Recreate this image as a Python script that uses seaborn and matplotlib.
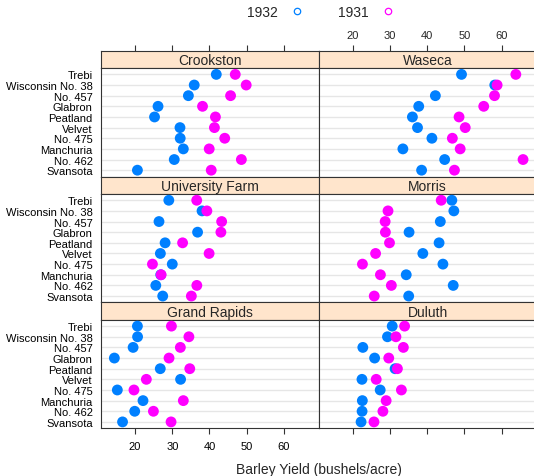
import matplotlib
matplotlib.use("Agg")
import matplotlib.pyplot as plt
from matplotlib.lines import Line2D
import numpy as np
import pandas as pd
import seaborn as sns

# varieties, top to bottom as shown in each panel
varieties = ["Trebi", "Wisconsin No. 38", "No. 457", "Glabron", "Peatland",
             "Velvet", "No. 475", "Manchuria", "No. 462", "Svansota"]
years = ["1932", "1931"]

# panel layout, top row first
site_rows = [["Crookston", "Waseca"],
             ["University Farm", "Morris"],
             ["Grand Rapids", "Duluth"]]

# yields (bushels/acre) in the variety order above
crookston_1932 = [41.83, 35.90, 34.33, 26.17, 25.23, 32.07, 32.13, 32.97, 30.53, 20.63]
crookston_1931 = [46.93, 49.87, 45.67, 38.13, 41.60, 41.33, 44.10, 39.93, 48.57, 40.47]
waseca_1932 = [49.23, 58.17, 42.20, 37.73, 36.03, 37.40, 41.27, 33.47, 44.70, 38.50]
waseca_1931 = [63.83, 58.80, 58.10, 55.20, 48.57, 50.23, 46.77, 48.87, 65.77, 47.33]
univ_farm_1932 = [29.07, 38.00, 26.43, 36.80, 28.07, 26.80, 30.00, 26.90, 25.57, 27.43]
univ_farm_1931 = [36.57, 39.30, 43.27, 43.07, 32.77, 39.90, 24.67, 27.00, 36.60, 35.13]
morris_1932 = [46.63, 47.17, 43.53, 35.13, 43.20, 38.83, 44.23, 34.37, 47.00, 35.03]
morris_1931 = [43.77, 29.47, 28.70, 28.77, 29.87, 26.13, 22.60, 27.43, 30.37, 25.77]
grand_rapids_1932 = [20.63, 20.67, 19.47, 14.43, 26.77, 32.23, 15.23, 22.13, 19.90, 16.63]
grand_rapids_1931 = [29.77, 34.47, 32.17, 29.13, 34.70, 23.03, 19.70, 32.97, 24.93, 29.67]
duluth_1932 = [30.60, 29.33, 22.70, 25.87, 31.37, 22.47, 27.37, 22.57, 22.50, 22.23]
duluth_1931 = [33.93, 31.60, 33.60, 29.67, 32.00, 26.30, 33.07, 28.97, 28.10, 25.70]

site_values = {
    "Crookston": (crookston_1932, crookston_1931),
    "Waseca": (waseca_1932, waseca_1931),
    "University Farm": (univ_farm_1932, univ_farm_1931),
    "Morris": (morris_1932, morris_1931),
    "Grand Rapids": (grand_rapids_1932, grand_rapids_1931),
    "Duluth": (duluth_1932, duluth_1931),
}

rows = []
for site, (y32, y31) in site_values.items():
    for yr, vals in zip(years, (y32, y31)):
        for v, val in zip(varieties, vals):
            rows.append({"site": site, "year": yr, "variety": v, "yield": val})
df = pd.DataFrame(rows)

sns.set_theme(style="white")
plt.rcParams["font.family"] = ["Liberation Sans", "DejaVu Sans"]

palette = {"1932": "#0080ff", "1931": "#ff00ff"}
strip_col = "#ffe5cc"
edge_col = "#333333"
xlim = (10.84, 69.36)
xticks = [20, 30, 40, 50, 60]

W, H = 534, 477
fig = plt.figure(figsize=(W / 100, H / 100), dpi=100)

col_x = [101, 318.7]
col_w = 217.7
top_px, bottom_px = 51.7, 429.3
row_h = (bottom_px - top_px) / 3
strip_h = 17.3

for r, pair in enumerate(site_rows):
    for c, site in enumerate(pair):
        st = top_px + r * row_h
        sax = fig.add_axes([col_x[c] / W, 1 - (st + strip_h) / H, col_w / W, strip_h / H])
        ax = fig.add_axes([col_x[c] / W, 1 - (st + row_h) / H, col_w / W, (row_h - strip_h) / H])

        sub = df[df["site"] == site]
        sns.stripplot(data=sub, x="yield", y="variety", hue="year", order=varieties,
                      hue_order=years, palette=palette, jitter=False, size=7.8,
                      linewidth=0, legend=False, ax=ax, zorder=3)

        ax.set_xlim(*xlim)
        ax.set_ylim(len(varieties) - 0.4, -0.6)
        ax.set_xlabel("")
        ax.set_ylabel("")
        ax.set_axisbelow(True)
        ax.yaxis.grid(True, color="#e6e6e6", linewidth=1.0)
        ax.xaxis.grid(False)
        ax.set_xticks(xticks)
        bottom_row = r == 2
        ax.tick_params(axis="x", direction="out", length=4, width=0.8, color=edge_col,
                       bottom=bottom_row, labelbottom=bottom_row and c == 0,
                       labelsize=8, pad=5.5, labelcolor="black")
        ax.tick_params(axis="y", length=0, labelsize=8, pad=6, labelleft=(c == 0),
                       labelcolor="black")
        for sp in ax.spines.values():
            sp.set_color(edge_col)
            sp.set_linewidth(0.8)
            sp.set_visible(True)

        sax.set_facecolor(strip_col)
        sax.set_xlim(*xlim)
        sax.set_ylim(0, 1)
        sax.set_yticks([])
        sax.set_xticks(xticks)
        top_row = r == 0
        sax.tick_params(axis="x", direction="out", length=4, width=0.8, color=edge_col,
                        bottom=False, labelbottom=False, top=top_row,
                        labeltop=top_row and c == 1, labelsize=8, pad=4)
        for sp in sax.spines.values():
            sp.set_color(edge_col)
            sp.set_linewidth(0.8)
            sp.set_visible(True)
        sax.text(0.5, 0.45, site, transform=sax.transAxes, ha="center", va="center",
                 fontsize=10)

# legend on top, text before its symbol
handles = [Line2D([], [], linestyle="none", marker="o", markersize=4.6,
                  markerfacecolor="none", markeredgecolor=palette[y], markeredgewidth=0.9)
           for y in years]
fig.legend(handles, years, ncol=2, markerfirst=False, frameon=False, fontsize=10,
           loc="center", bbox_to_anchor=(321 / W, 1 - 12.7 / H), handlelength=1.0,
           handletextpad=0.85, columnspacing=2.5, borderpad=0)

fig.text(318.5 / W, 1 - 470 / H, "Barley Yield (bushels/acre)", ha="center", va="center",
         fontsize=10)

fig.savefig("out.png", dpi=100)
